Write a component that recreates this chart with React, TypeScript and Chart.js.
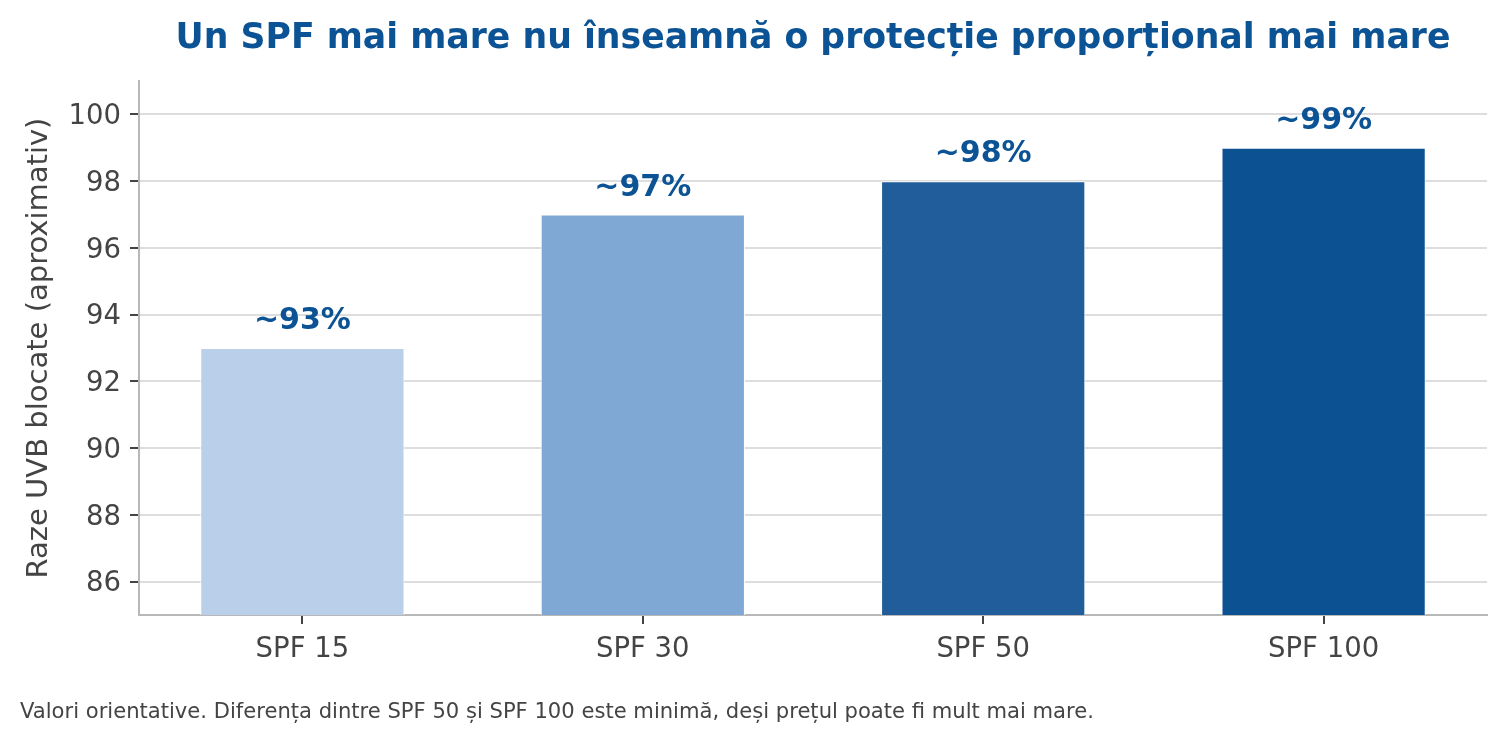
import React, { useEffect, useRef } from "react";
import { Chart, registerables } from "chart.js";

Chart.register(...registerables);

const categories = ["SPF 15", "SPF 30", "SPF 50", "SPF 100"];
const blocked = [93, 97, 98, 99];
const barColors = ["#b9cfea", "#80a8d4", "#215d9a", "#0c5192"];
const yTicks = [86, 88, 90, 92, 94, 96, 98, 100];
const titleText = "Un SPF mai mare nu înseamnă o protecție proporțional mai mare";
const yLabel = "Raze UVB blocate (aproximativ)";
const footnote =
  "Valori orientative. Diferența dintre SPF 50 și SPF 100 este minimă, deși prețul poate fi mult mai mare.";

const FONT = "'DejaVu Sans', sans-serif";

const labelPlugin = {
  id: "barLabels",
  afterDatasetsDraw(chart: any) {
    const ctx = chart.ctx;
    const meta = chart.getDatasetMeta(0);
    ctx.save();
    ctx.font = `bold 30px ${FONT}`;
    ctx.fillStyle = "#0b5394";
    ctx.textAlign = "center";
    ctx.textBaseline = "alphabetic";
    meta.data.forEach((el: any, i: number) => {
      ctx.fillText(`~${blocked[i]}%`, el.x, el.y - 19);
    });
    ctx.restore();
  },
};

export default function App() {
  const ref = useRef<HTMLCanvasElement | null>(null);

  useEffect(() => {
    if (!ref.current) return;
    const chart = new Chart(ref.current, {
      type: "bar",
      data: {
        datasets: [
          {
            data: blocked.map((v, i) => ({ x: i, y: v })),
            backgroundColor: barColors,
            borderColor: "#ffffff",
            borderWidth: 1,
            categoryPercentage: 1,
            barPercentage: 0.6,
          },
        ],
      },
      options: {
        animation: false,
        responsive: false,
        devicePixelRatio: 1,
        layout: { padding: { left: 0, right: 20, top: 0, bottom: 0 } },
        plugins: {
          legend: { display: false },
          tooltip: { enabled: false },
          title: {
            display: true,
            text: titleText,
            fullSize: false,
            color: "#0b5394",
            font: { family: FONT, size: 34.7, weight: "bold", lineHeight: 1.2 },
            padding: { top: 18, bottom: 21.4 },
          },
        },
        scales: {
          x: {
            type: "linear",
            offset: false,
            min: -0.48,
            max: categories.length - 1 + 0.48,
            afterBuildTicks: (scale: any) => {
              scale.ticks = categories.map((_, i) => ({ value: i }));
            },
            afterFit: (scale: any) => {
              scale.height = 128;
            },
            ticks: {
              color: "#444444",
              font: { family: FONT, size: 27.5 },
              padding: 9,
              maxRotation: 0,
              autoSkip: false,
              callback: (v: any) => categories[v] ?? "",
            },
            grid: {
              display: true,
              offset: false,
              drawOnChartArea: false,
              drawTicks: true,
              tickLength: 9,
              tickColor: "#444444",
              lineWidth: 2,
            },
            border: { display: true, color: "#b8b8b8", width: 2 },
          },
          y: {
            min: 85,
            max: 101,
            afterBuildTicks: (scale: any) => {
              scale.ticks = yTicks.map((v) => ({ value: v }));
            },
            afterFit: (scale: any) => {
              scale.width = 139;
            },
            ticks: {
              color: "#444444",
              font: { family: FONT, size: 27.5 },
              padding: 9,
              labelOffset: 2.5,
            },
            grid: {
              color: "#dddddd",
              lineWidth: 2,
              drawTicks: true,
              tickLength: 9,
              tickColor: "#444444",
            },
            border: { display: true, color: "#b8b8b8", width: 2 },
            title: {
              display: true,
              text: yLabel,
              color: "#444444",
              font: { family: FONT, size: 29 },
              padding: { top: 22, bottom: 0 },
            },
          },
        },
      },
      plugins: [labelPlugin],
    });
    return () => chart.destroy();
  }, []);

  return (
    <div style={{ position: "absolute", left: 0, top: 0, width: 1507, height: 743, background: "#fff" }}>
      <canvas ref={ref} width={1507} height={743} style={{ display: "block" }} />
      <div
        style={{
          position: "absolute",
          left: 20,
          top: 700,
          fontFamily: FONT,
          fontSize: 21.1,
          lineHeight: 1,
          color: "#444444",
          whiteSpace: "nowrap",
        }}
      >
        {footnote}
      </div>
    </div>
  );
}
